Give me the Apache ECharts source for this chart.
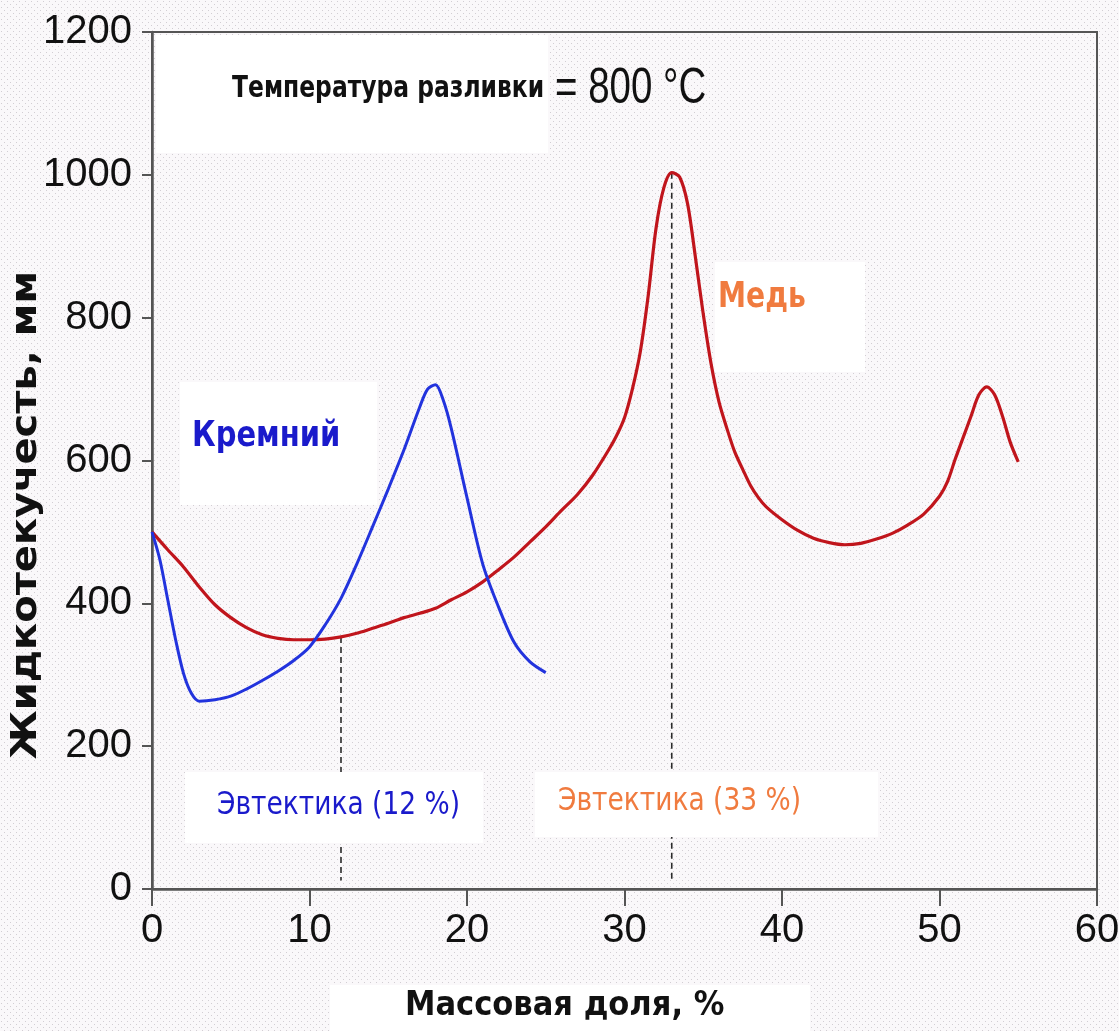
<!DOCTYPE html>
<html>
<head>
<meta charset="utf-8">
<script src="https://cdn.jsdelivr.net/npm/echarts@6/dist/echarts.min.js"></script>
<style>
  html, body { margin: 0; padding: 0; background: #fff; }
  #chart { width: 1119px; height: 1031px; }
</style>
</head>
<body>
<div id="chart"></div>
<script>
// Жидкотекучесть сплавов алюминия при 800 °C в зависимости от содержания Si и Cu
const siliconX = [0, 0.5, 1, 1.5, 2, 2.5, 3, 4, 5, 6, 7, 8, 9, 10, 11, 12, 13, 14, 15, 16, 17, 17.5, 18, 18.5, 19, 20, 21, 22, 23, 24, 25];
const siliconY = [500, 461, 405, 349, 302, 274, 263, 265, 270, 280, 292, 305, 320, 339, 370, 407, 455, 507, 560, 615, 675, 700, 706, 684, 645, 548, 455, 395, 345, 318, 303];

const copperX = [0, 1, 2, 3, 4, 5, 6, 7, 8, 9, 10, 11, 12, 13, 14, 15, 16, 17, 18, 19, 20, 21, 22, 23, 24, 25, 26, 27, 28, 29, 29.5, 30, 30.5, 31, 31.5, 32, 32.5, 33, 33.5, 34, 34.5, 35, 35.5, 36, 36.5, 37, 37.5, 38, 38.5, 39, 40, 41, 42, 43, 44, 45, 46, 47, 48, 49, 50, 50.5, 51, 51.5, 52, 52.5, 53, 53.5, 54, 54.5, 55];
const copperY = [500, 475, 451, 423, 398, 380, 366, 356, 351, 349, 349, 350, 353, 358, 365, 372, 380, 386, 393, 405, 416, 430, 447, 465, 486, 507, 530, 552, 580, 615, 635, 660, 700, 752, 830, 925, 982, 1003, 997, 960, 885, 805, 735, 682, 645, 612, 588, 565, 548, 535, 517, 502, 491, 485, 482, 484, 490, 498, 510, 525, 550, 570, 602, 632, 662, 692, 703, 692, 662, 625, 598];

// Эвтектические составы: вертикали от кривой до оси
const eutecticX = [12, 33];
const eutecticTop = [353, 1003];
const eutecticBase = 12;

const xMin = 0, xMax = 60, xStep = 10;
const yMin = 0, yMax = 1200, yStep = 200;

const titleText = 'Температура разливки';
const titleValue = '= 800 °C';
const yName = 'Жидкотекучесть, мм';
const xName = 'Массовая доля, %';
const siliconName = 'Кремний';
const copperName = 'Медь';
const eutecticLabels = ['Эвтектика (12 %)', 'Эвтектика (33 %)'];

const BLUE = '#2233dd';
const RED = '#c0151c';
const BLUE_TEXT = '#1a1acb';
const ORANGE_TEXT = '#f07b3f';
const AXIS = '#555555';
const SANS = '"Liberation Sans", Arial, sans-serif';
const COND = '"DejaVu Sans Condensed", "DejaVu Sans", sans-serif';

function pairs(xs, ys) { return xs.map((x, i) => [x, ys[i]]); }

// мелкий точечный фон
const tile = document.createElement('canvas');
tile.width = 6; tile.height = 6;
const tctx = tile.getContext('2d');
tctx.fillStyle = '#faf8fa';
tctx.fillRect(0, 0, 6, 6);
tctx.fillStyle = '#d2ced3';
tctx.fillRect(1, 1, 1, 1);
tctx.fillRect(4, 4, 1, 1);

const chart = echarts.init(document.getElementById('chart'), null, { renderer: 'canvas' });

const eutecticSeries = eutecticX.map((x, i) => ({
  type: 'line',
  data: [[x, eutecticTop[i]], [x, eutecticBase]],
  symbol: 'none',
  silent: true,
  z: 1,
  lineStyle: { color: '#2a2a2a', width: 1.6, type: [6, 4] }
}));

const whiteBox = (x, y, w, h) => ({
  type: 'rect', z: 100, silent: true,
  shape: { x, y, width: w, height: h },
  style: { fill: '#ffffff' }
});

const label = (text, x, y, font, fill, scaleX) => ({
  type: 'text', z: 110, silent: true, x, y, scaleX: scaleX || 1,
  style: { text, font, fill, align: 'left', verticalAlign: 'middle' }
});

const tickLabel = {
  margin: 20, color: '#111', fontSize: 40, fontFamily: SANS,
  formatter: v => String(v)
};

chart.setOption({
  backgroundColor: { image: tile, repeat: 'repeat' },
  animation: false,
  grid: {
    left: 152, right: 22, top: 32, bottom: 142,
    containLabel: false, outerBoundsMode: 'none',
    show: true, borderColor: AXIS, borderWidth: 2, backgroundColor: 'transparent'
  },
  xAxis: {
    type: 'value', min: xMin, max: xMax, interval: xStep,
    axisLine: { show: true, lineStyle: { color: AXIS, width: 2.5 } },
    axisTick: { show: true, inside: false, length: 17, lineStyle: { color: AXIS, width: 2 } },
    axisLabel: Object.assign({}, tickLabel, { margin: 22 }),
    splitLine: { show: false }
  },
  yAxis: {
    type: 'value', min: yMin, max: yMax, interval: yStep,
    axisLine: { show: true, lineStyle: { color: AXIS, width: 2.5 } },
    axisTick: { show: true, inside: false, length: 10, lineStyle: { color: AXIS, width: 2 } },
    axisLabel: tickLabel,
    splitLine: { show: false }
  },
  series: [
    ...eutecticSeries,
    {
      name: copperName, type: 'line', data: pairs(copperX, copperY),
      smooth: 0.3, symbol: 'none', z: 3,
      lineStyle: { color: RED, width: 3.2 }
    },
    {
      name: siliconName, type: 'line', data: pairs(siliconX, siliconY),
      smooth: 0.3, symbol: 'none', z: 4,
      lineStyle: { color: BLUE, width: 3 }
    }
  ],
  graphic: [
    whiteBox(156, 35, 392, 118),
    whiteBox(715, 262, 150, 110),
    whiteBox(180, 382, 197, 123),
    whiteBox(185, 772, 298, 71),
    whiteBox(535, 772, 343, 65),
    whiteBox(330, 985, 480, 50),
    label(titleText, 232, 89, 'bold 31px ' + COND, '#111', 0.84),
    label(titleValue, 555, 89, '50px ' + SANS, '#111', 0.77),
    label(copperName, 718, 298, 'bold 36px ' + COND, ORANGE_TEXT, 0.87),
    label(siliconName, 192, 437, 'bold 35px ' + COND, BLUE_TEXT, 0.92),
    label(eutecticLabels[0], 217, 806, '32px ' + COND, BLUE_TEXT, 0.92),
    label(eutecticLabels[1], 558, 802, '32px ' + COND, ORANGE_TEXT, 0.92),
    label(xName, 405, 1006, 'bold 34px ' + COND, '#111', 1),
    {
      type: 'text', z: 110, silent: true, x: 27, y: 515, rotation: Math.PI / 2, scaleX: 1.11,
      style: { text: yName, font: 'bold 36px "DejaVu Sans", sans-serif', fill: '#111', align: 'center', verticalAlign: 'middle' }
    }
  ]
});
</script>
</body>
</html>
